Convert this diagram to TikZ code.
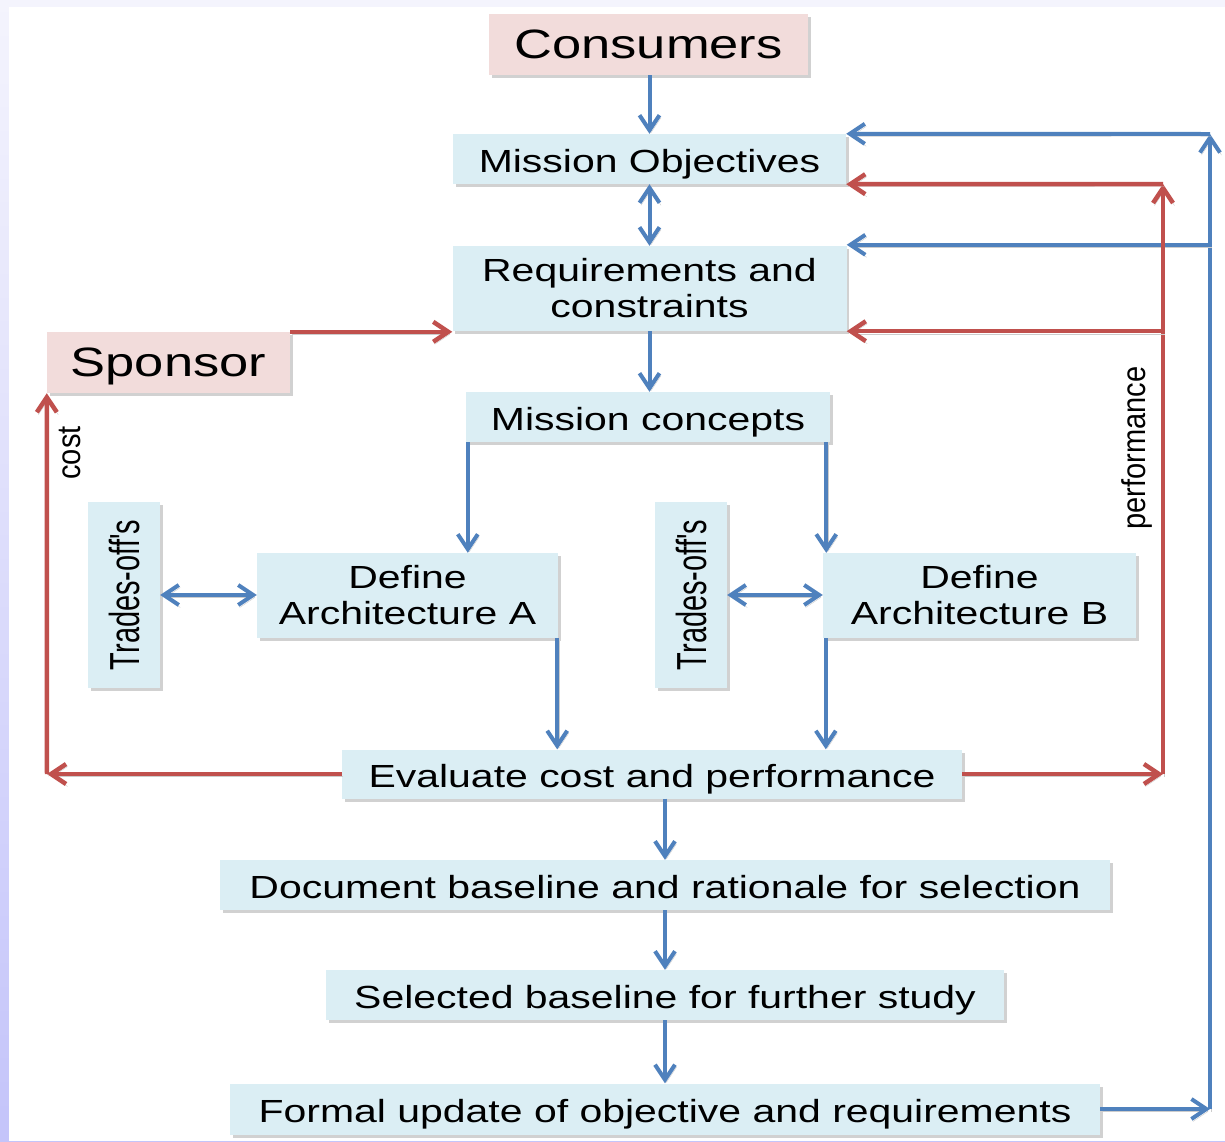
\documentclass[tikz,border=0pt]{standalone}
\usepackage{fontspec}
\usepackage{graphicx}
\usetikzlibrary{arrows.meta,shadows,calc}

\newfontfamily\widefont[FakeStretch=1.28]{Liberation Sans}
\newfontfamily\narrowfont[FakeStretch=0.69]{Liberation Sans}
\newfontfamily\slimfont[FakeStretch=0.88]{Liberation Sans}

\definecolor{boxblue}{HTML}{DBEEF4}
\definecolor{boxpink}{HTML}{F2DCDB}
\definecolor{lineblue}{HTML}{4F81BD}
\definecolor{linered}{HTML}{C0504D}
\definecolor{edgetop}{HTML}{F4F4FD}
\definecolor{edgebot}{HTML}{C4C4FA}

\tikzset{
  barb/.tip={Straight Barb[length=15pt,width=20pt]},
  card/.style={rectangle, inner sep=0pt, fill=boxblue,
    drop shadow={shadow xshift=2.5pt, shadow yshift=-3pt, fill=black!45, opacity=0.4}},
  pinkcard/.style={card, fill=boxpink},
  maintext/.style={font=\widefont\fontsize{32}{36}\selectfont, align=center},
  bigtext/.style={font=\widefont\fontsize{41}{48}\selectfont, text depth=0pt},
  oneline/.style={maintext, text height=26pt, text depth=0pt},
  lineshadow/.style={preaction={draw=black!20, transform canvas={xshift=1.5pt,yshift=-2.5pt}}},
  blueflow/.style={line width=4pt, draw=lineblue, -barb, lineshadow},
  redflow/.style={line width=4.5pt, draw=linered, -barb, lineshadow},
  sidelabel/.style={font=\slimfont\fontsize{33}{36}\selectfont, rotate=90, inner sep=0pt},
}

\begin{document}
\begin{tikzpicture}[x=1pt,y=-1pt]
  % page frame with a soft lavender edge
  \useasboundingbox (0,0) rectangle (1225,1141);
  \shade[top color=edgetop, bottom color=edgebot] (0,0) rectangle (1225,1141);
  \fill[white] (9,7) rectangle (1225,1141);

  % boxes
  \node[pinkcard, bigtext, minimum width=319pt, minimum height=61pt] (cons) at (648.5,44.5) {Consumers};
  \node[card, oneline, minimum width=393pt, minimum height=50pt] (mo) at (649.5,159) {Mission Objectives};
  \node[card, maintext, minimum width=394pt, minimum height=85pt] (req) at (649.5,288.5) {Requirements and\\constraints};
  \node[pinkcard, bigtext, minimum width=243pt, minimum height=61pt] (spon) at (168.5,362.5) {Sponsor};
  \node[card, oneline, minimum width=364pt, minimum height=50pt] (mc) at (648,417) {Mission concepts};
  \node[card, minimum width=72pt, minimum height=186pt] (tl) at (124,595)
    {\rotatebox{90}{\narrowfont\fontsize{42}{46}\selectfont Trades-off's}};
  \node[card, maintext, minimum width=301pt, minimum height=85pt] (da) at (407.5,595.5) {Define\\Architecture A};
  \node[card, minimum width=72pt, minimum height=186pt] (tr) at (691,595)
    {\rotatebox{90}{\narrowfont\fontsize{42}{46}\selectfont Trades-off's}};
  \node[card, maintext, minimum width=313pt, minimum height=85pt] (db) at (979.5,595.5) {Define\\Architecture B};
  \node[card, oneline, minimum width=620pt, minimum height=49pt] (ev) at (652,774) {Evaluate cost and performance};
  \node[card, oneline, minimum width=890pt, minimum height=50pt] (doc) at (665,885) {Document baseline and rationale for selection};
  \node[card, oneline, minimum width=678pt, minimum height=50pt] (sel) at (665,995) {Selected baseline for further study};
  \node[card, oneline, minimum width=870pt, minimum height=51pt] (form) at (665,1109) {Formal update of objective and requirements};

  % bends of the feedback loops
  \coordinate (bluecorner) at (1210,1109);
  \coordinate (bluetop) at (1210,134);
  \coordinate (redcorner) at (1163,774);
  \coordinate (redtop) at (1163,184);
  \coordinate (costcorner) at (47,774);

  % main flow
  \draw[blueflow] (cons.south -| mo.north) -- (mo.north);
  \draw[blueflow, barb-barb] (mo.south) -- (req.north);
  \draw[blueflow] (req.south) -- (req.south |- mc.north);
  \draw[blueflow] ([xshift=2pt]mc.south west) -- ([xshift=2pt]mc.south west |- da.north);
  \draw[blueflow] ([xshift=-4pt]mc.south east) -- ([xshift=-4pt]mc.south east |- db.north);
  \draw[blueflow, barb-barb] (tl.east) -- (tl.east -| da.west);
  \draw[blueflow, barb-barb] (tr.east) -- (tr.east -| db.west);
  \draw[blueflow] ([xshift=-1pt]da.south east) -- ([xshift=-1pt]da.south east |- ev.north);
  \draw[blueflow] ([xshift=3pt]db.south west) -- ([xshift=3pt]db.south west |- ev.north);
  \draw[blueflow] (doc.north |- ev.south) -- (doc.north);
  \draw[blueflow] (doc.south) -- (sel.north);
  \draw[blueflow] (sel.south) -- (form.north);

  % update loop back to the objectives
  \draw[blueflow] (form.east) -- (bluecorner);
  \draw[blueflow] (bluecorner) -- (bluetop);
  \draw[blueflow] (bluetop) -- (mo.north east);
  \draw[blueflow] ([yshift=1pt]req.north east -| bluetop) -- ([yshift=1pt]req.north east);

  % performance loop
  \draw[redflow] (ev.east) -- (redcorner);
  \draw[redflow] (redcorner) -- (redtop);
  \draw[redflow] (redtop) -- (mo.south east);
  \draw[redflow] (req.south east -| redtop) -- (req.south east);
  \node[sidelabel] (perf) at (1137,448) {performance};

  % cost loop
  \draw[redflow] (ev.west) -- (costcorner);
  \draw[redflow] (costcorner) -- (spon.south west);
  \draw[redflow] (spon.north east) -- (spon.north east -| req.west);
  \node[sidelabel] (cost) at (70,453) {cost};
\end{tikzpicture}
\end{document}
